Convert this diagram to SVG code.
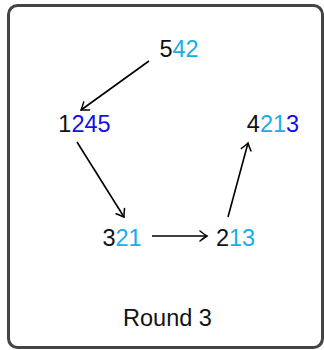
<svg xmlns="http://www.w3.org/2000/svg" width="324" height="350" viewBox="0 0 324 350">
<defs>
<style>
text{font-family:"Liberation Sans",Arial,sans-serif;font-size:23.5px;fill:#111;text-anchor:middle}
.c{fill:#17ADE8}
.b{fill:#1010F0}
.e{fill:none;stroke:#000;stroke-width:1.6}
</style>
<marker id="ah" markerUnits="userSpaceOnUse" markerWidth="14" markerHeight="14" viewBox="-10 -7 12 14" refX="0" refY="0" orient="auto">
<path d="M-7,-5 Q-2,-1.2 0,0 Q-2,1.2 -7,5" fill="none" stroke="#000" stroke-width="1.5" stroke-linecap="round"/>
</marker>
</defs>
<rect x="8.5" y="5.5" width="314" height="342" rx="9" fill="#fff" stroke="#444" stroke-width="3"/>
<g id="edges">
<line class="e" x1="149" y1="61" x2="81" y2="110" marker-end="url(#ah)"/>
<line class="e" x1="77" y1="142" x2="124" y2="217" marker-end="url(#ah)"/>
<line class="e" x1="152" y1="236" x2="207" y2="236" marker-end="url(#ah)"/>
<line class="e" x1="228" y1="217" x2="248" y2="143" marker-end="url(#ah)"/>
</g>
<g id="n542"><text x="179" y="57">5<tspan class="c">42</tspan></text></g>
<g id="n1245"><text x="84.5" y="132">1<tspan class="b">245</tspan></text></g>
<g id="n4213"><text x="273" y="132">4<tspan class="c">21</tspan><tspan class="b">3</tspan></text></g>
<g id="n321"><text x="122" y="246">3<tspan class="c">21</tspan></text></g>
<g id="n213"><text x="235.5" y="246">2<tspan class="c">13</tspan></text></g>
<g id="label"><text x="167.5" y="326">Round 3</text></g>
</svg>
